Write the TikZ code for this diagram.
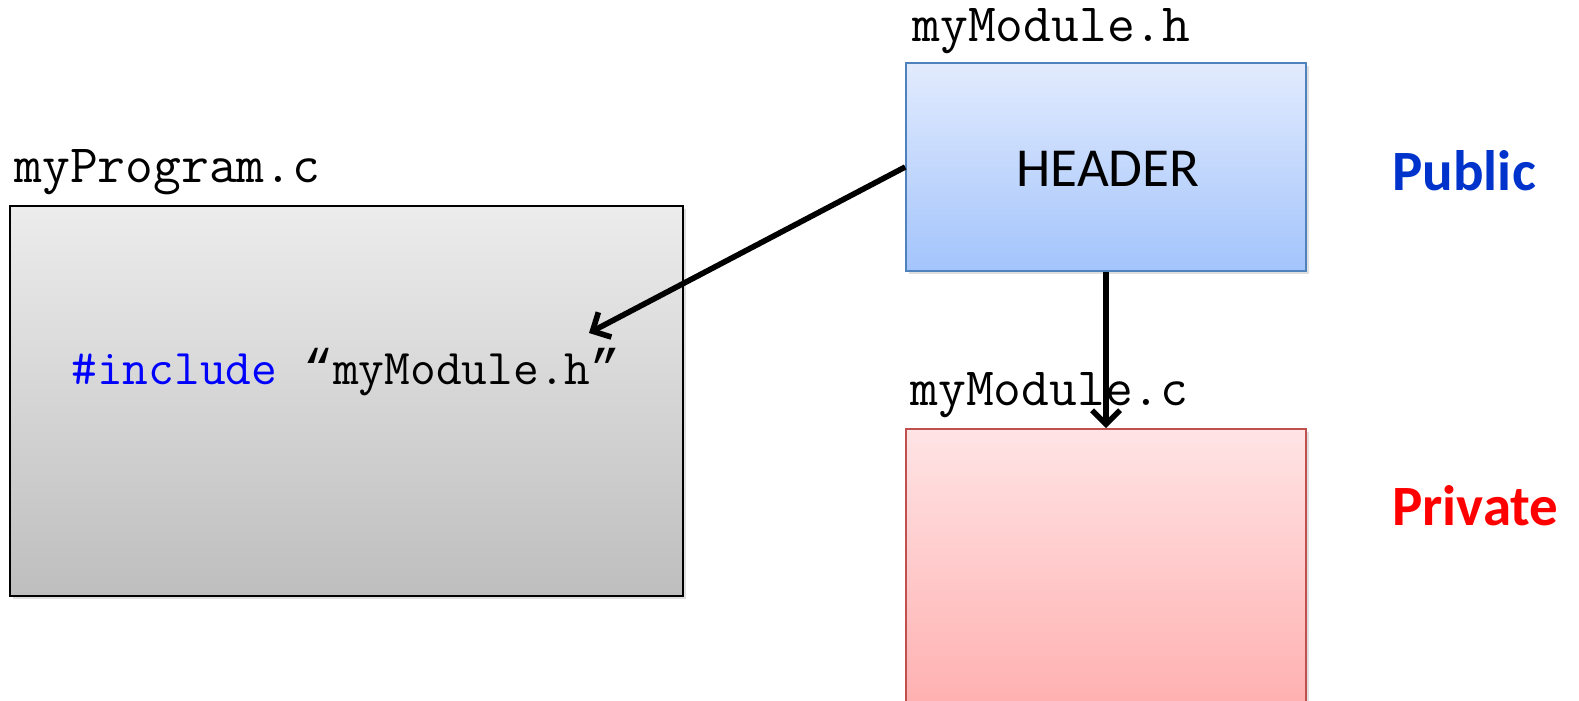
\documentclass[tikz,border=0pt]{standalone}
\usepackage{fontspec}
\setmainfont{Carlito}
\newfontfamily\qfont{Liberation Mono}
\usetikzlibrary{arrows.meta,shadows,shadings}
\definecolor{boxblue}{RGB}{79,129,189}
\definecolor{boxred}{RGB}{192,80,77}
\definecolor{pubblue}{RGB}{0,51,204}
\definecolor{inclblue}{RGB}{0,0,255}
\begin{document}
\begin{tikzpicture}[x=0.5pt,y=-0.5pt,
  filebox/.style={rectangle, inner sep=0pt, line width=0.8pt,
    drop shadow={opacity=0.25, shadow xshift=1.5pt, shadow yshift=-1.5pt}},
  fname/.style={anchor=base west, inner sep=0pt, font=\ttfamily\fontsize{27}{32}\selectfont},
  side/.style={anchor=base west, inner sep=0pt, font=\bfseries\fontsize{28.5}{32}\selectfont},
  conn/.style={line width=2.8pt, -{Straight Barb[length=7pt,width=14pt,line width=2.8pt]}}]
\useasboundingbox (0,0) rectangle (1579,701);
% boxes
\node[filebox, draw=black, top color={rgb,255:red,236;green,236;blue,236},
      bottom color={rgb,255:red,190;green,190;blue,190},
      minimum width=336.5pt, minimum height=195pt] (prog) at (346.5,401) {};
\node[filebox, draw=boxblue, top color={rgb,255:red,226;green,235;blue,253},
      bottom color={rgb,255:red,163;green,196;blue,252},
      minimum width=200pt, minimum height=104pt] (hdr) at (1106,167) {};
\node[filebox, draw=boxred, top color={rgb,255:red,255;green,228;blue,229},
      bottom color={rgb,255:red,255;green,158;blue,158},
      minimum width=200pt, minimum height=185.5pt] (src) at (1106,614.5) {};
% texts
\node[anchor=center, inner sep=0pt, font=\fontsize{27.5}{32}\selectfont] (hdrtext) at (1108,169) {HEADER};
\node[fname] (progname) at (14,183) {myProgram.c};
\node[fname] (hname) at (912,42) {myModule.h};
\node[fname] (cname) at (910,405) {myModule.c};
\node[anchor=base, inner sep=0pt, font=\ttfamily\fontsize{25}{28}\selectfont] (incl) at (346,384)
  {\textcolor{inclblue}{\#include} {\qfont“}myModule.h{\qfont”}};
\node[side, text=pubblue] (pub) at (1392,191) {Public};
\node[side, text=red] (priv) at (1392,525) {Private};
% connectors
\coordinate (inclpt) at (589,333);
\draw[conn] (hdr.west) -- (inclpt);
\draw[conn] (hdr.south) -- (src.north);
\end{tikzpicture}
\end{document}
